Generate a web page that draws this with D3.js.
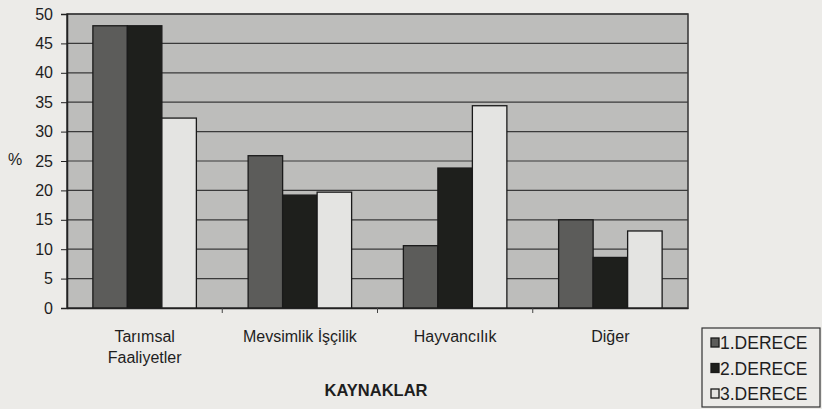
<!DOCTYPE html>
<html><head><meta charset="utf-8">
<script src="https://cdn.jsdelivr.net/npm/d3@7/dist/d3.min.js"></script>
<style>html,body{margin:0;padding:0;background:#ecebe8;}svg{display:block;font-family:Arial,"Liberation Sans",sans-serif;}</style>
</head><body><svg id="c" width="822" height="409"></svg>
<script>
const categories = [["Tarımsal","Faaliyetler"],["Mevsimlik İşçilik"],["Hayvancılık"],["Diğer"]];
const seriesNames = ["1.DERECE","2.DERECE","3.DERECE"];
const derece1 = [48, 25.9, 10.6, 15.0];
const derece2 = [48, 19.2, 23.8, 8.6];
const derece3 = [32.3, 19.7, 34.4, 13.1];
const yTicks = [0,5,10,15,20,25,30,35,40,45,50];
const colors = ["#5c5c5a","#1e1f1c","#e4e4e2"];

const svg = d3.select("#c");
const L=67, R=688, T=14, B=308;
const series=[derece1,derece2,derece3];
const x = d3.scaleBand().domain(d3.range(categories.length)).range([L,R]).paddingInner(0).paddingOuter(0);
const y = d3.scaleLinear().domain([0,50]).range([B,T]);
const bw = x.bandwidth()/4.5;
const txt = "#1e1e1e";

svg.append("rect").attr("x",L).attr("y",T).attr("width",R-L).attr("height",B-T).attr("fill","#bdbdbb").attr("stroke","#333").attr("stroke-width",1.5);
svg.append("g").selectAll("line").data(yTicks.filter(d=>d>0)).join("line")
  .attr("x1",L).attr("x2",R).attr("y1",d=>y(d)).attr("y2",d=>y(d)).attr("stroke","#3a3a3a").attr("stroke-width",1.2);
series.forEach((s,si)=>{
  svg.append("g").selectAll("rect").data(s).join("rect")
    .attr("x",(d,i)=>x(i)+bw*0.75+si*bw).attr("y",d=>y(d)).attr("width",bw).attr("height",d=>B-y(d))
    .attr("fill",colors[si]).attr("stroke","#1a1a1a").attr("stroke-width",1.3);
});
const ya = svg.append("g").attr("transform",`translate(${L},0)`).call(d3.axisLeft(y).tickValues(yTicks).tickSize(6).tickPadding(8));
ya.select(".domain").attr("stroke","#222").attr("stroke-width",1.5);
ya.selectAll(".tick line").attr("stroke","#222");
ya.selectAll("text").attr("font-size",16).attr("fill",txt).attr("font-family","Arial,'Liberation Sans',sans-serif");
const xa = svg.append("g").attr("transform",`translate(0,${B})`).call(d3.axisBottom(x).tickSize(0).tickFormat(""));
xa.select(".domain").attr("stroke","#222").attr("stroke-width",1.5);
svg.append("g").selectAll("line").data(d3.range(1,categories.length)).join("line")
  .attr("x1",d=>x(d)).attr("x2",d=>x(d)).attr("y1",B).attr("y2",B+5).attr("stroke","#444");
svg.append("g").selectAll("text").data(categories).join("text")
  .attr("x",(d,i)=>x(i)+x.bandwidth()/2).attr("y",342).attr("text-anchor","middle").attr("font-size",16).attr("fill",txt)
  .each(function(d){ d.forEach((t,k)=>d3.select(this).append("tspan").attr("x",d3.select(this).attr("x")).attr("dy",k?21:0).text(t)); });
svg.append("text").attr("x",376).attr("y",396).attr("text-anchor","middle").attr("font-size",16.5).attr("font-weight","bold").attr("fill",txt).text("KAYNAKLAR");
svg.append("text").attr("x",8).attr("y",165).attr("font-size",16).attr("fill",txt).text("%");
const lg = svg.append("g");
lg.append("rect").attr("x",702).attr("y",328).attr("width",118).attr("height",79).attr("fill","none").attr("stroke","#333").attr("stroke-width",1.2);
seriesNames.forEach((n,i)=>{
  const base = 349+i*25.5;
  lg.append("rect").attr("x",711).attr("y",base-11).attr("width",8).attr("height",9).attr("fill",colors[i]).attr("stroke","#1a1a1a").attr("stroke-width",1.3);
  lg.append("text").attr("x",720).attr("y",base).attr("font-size",17.5).attr("fill",txt).text(n);
});
</script></body></html>
